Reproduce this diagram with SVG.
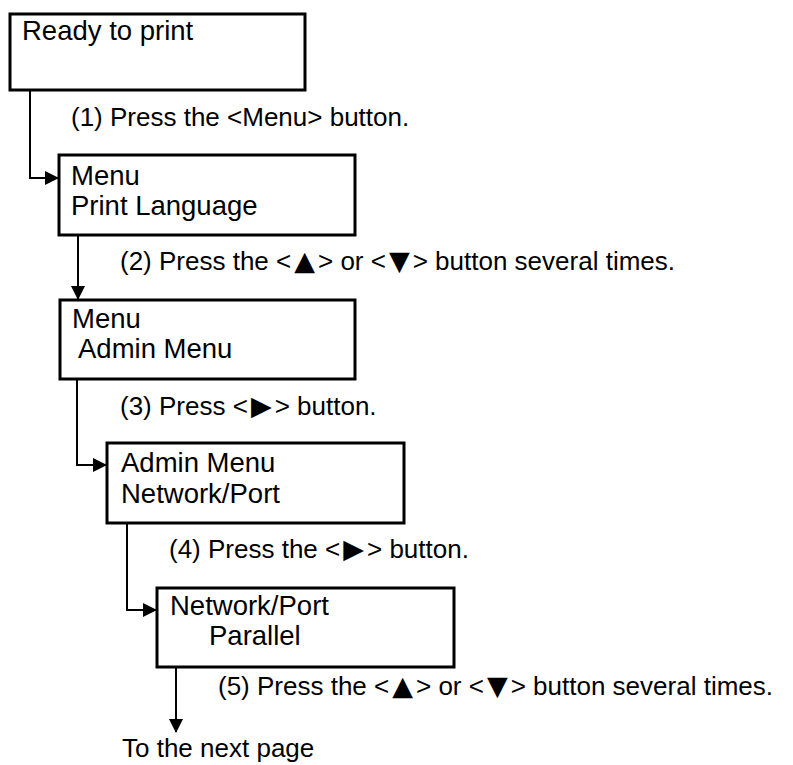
<svg xmlns="http://www.w3.org/2000/svg" width="793" height="765" viewBox="0 0 793 765">
<style>
text{font-family:"Liberation Sans",Arial,sans-serif;font-size:26px;fill:#000}
.bt{font-size:27.5px}
.tri{font-family:"DejaVu Sans",sans-serif;font-size:27px}
.box{fill:#fff;stroke:#000;stroke-width:3}
.con{fill:none;stroke:#000;stroke-width:2}
</style>
<defs>
<marker id="ah" markerWidth="14" markerHeight="14" refX="13" refY="7" orient="auto" markerUnits="userSpaceOnUse">
<path d="M0,0 L14,7 L0,14 Z" fill="#000"/>
</marker>
</defs>
<rect width="793" height="765" fill="#fff"/>
<g id="connectors">
<path class="con" d="M30,90 V178 H58" marker-end="url(#ah)"/>
<path class="con" d="M78,235 V299" marker-end="url(#ah)"/>
<path class="con" d="M77,379 V465 H106" marker-end="url(#ah)"/>
<path class="con" d="M127,523 V610 H156" marker-end="url(#ah)"/>
<path class="con" d="M176,667 V732" marker-end="url(#ah)"/>
</g>
<g id="labels">
<text x="71" y="126">(1) Press the &lt;Menu&gt; button.</text>
<text x="120" y="270">(2) Press the &lt;<tspan class="tri" dx="3">▲</tspan><tspan dx="3">&gt; or &lt;</tspan><tspan class="tri" dx="3">▼</tspan><tspan dx="3">&gt; button several times.</tspan></text>
<text x="120" y="415">(3) Press &lt;<tspan class="tri" dx="3">▶</tspan><tspan dx="3">&gt; button.</tspan></text>
<text x="169" y="558">(4) Press the &lt;<tspan class="tri" dx="3">▶</tspan><tspan dx="3">&gt; button.</tspan></text>
<text x="218" y="695">(5) Press the &lt;<tspan class="tri" dx="3">▲</tspan><tspan dx="3">&gt; or &lt;</tspan><tspan class="tri" dx="3">▼</tspan><tspan dx="3">&gt; button several times.</tspan></text>
<text x="122" y="757">To the next page</text>
</g>
<g id="n1"><rect class="box" x="10" y="14" width="295" height="76"/><text class="bt" x="22" y="40">Ready to print</text></g>
<g id="n2"><rect class="box" x="59" y="155" width="296" height="80"/><text class="bt" x="71" y="185">Menu</text><text class="bt" x="71" y="215">Print Language</text></g>
<g id="n3"><rect class="box" x="60" y="300" width="295" height="79"/><text class="bt" x="72" y="328">Menu</text><text class="bt" x="78" y="358">Admin Menu</text></g>
<g id="n4"><rect class="box" x="107" y="443" width="297" height="80"/><text class="bt" x="121" y="472">Admin Menu</text><text class="bt" x="121" y="503">Network/Port</text></g>
<g id="n5"><rect class="box" x="157" y="588" width="297" height="79"/><text class="bt" x="170" y="615">Network/Port</text><text class="bt" x="209" y="645">Parallel</text></g>
</svg>
